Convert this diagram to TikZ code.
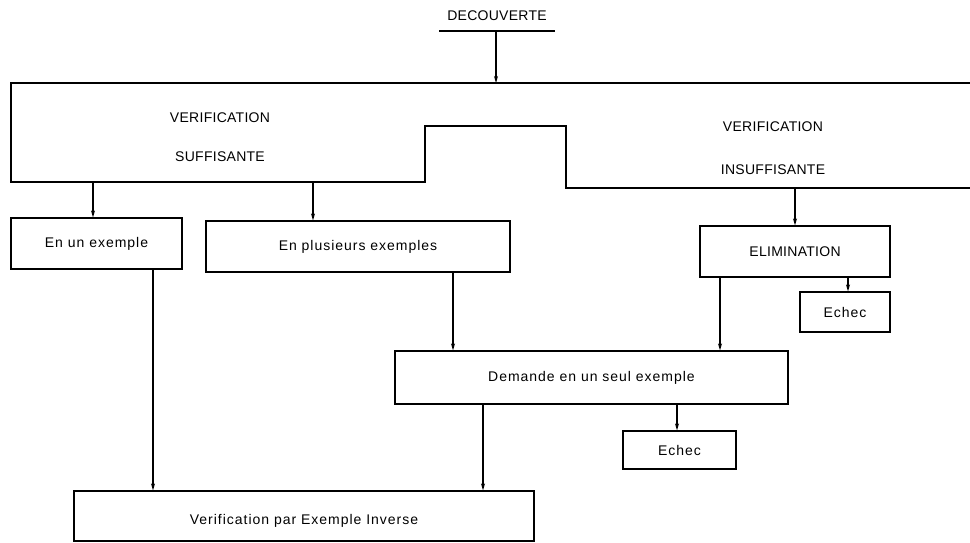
\documentclass[tikz,border=0pt]{standalone}
\usepackage{fontspec}
\setmainfont{Liberation Sans}[LetterSpace=2]
\newfontfamily\spacedfont{Liberation Sans}[LetterSpace=7]
\usetikzlibrary{arrows.meta}
\begin{document}
\begin{tikzpicture}[x=1pt,y=-1pt,
  line width=1.2pt,
  every node/.style={font=\fontsize{14}{16}\selectfont},
  box/.style={draw, inner sep=0pt, line width=1.2pt},
  wide/.style={font=\spacedfont\fontsize{14}{16}\selectfont},
  lbl/.style={inner sep=0pt},
  arr/.style={-{Stealth[length=7pt,width=4pt]}, line width=1.1pt}]
\useasboundingbox (0,0) rectangle (970,543);

% heading
\node[lbl] (dec) at (497,16) {DECOUVERTE};
\coordinate (barl) at (439,31);
\coordinate (barr) at (555,31);
\draw (barl) -- (barr);

% stepped outline of the two verification zones
\coordinate (topline) at (0,83);
\coordinate (suffbase) at (0,182);
\coordinate (insuffbase) at (0,188);
\draw (970,83) -- (11,83) -- (11,182) -- (425,182) -- (425,126)
      -- (566,126) -- (566,188) -- (970,188);
\node[lbl] (vs1) at (220,118) {VERIFICATION};
\node[lbl] (vs2) at (220,157) {SUFFISANTE};
\node[lbl] (vi1) at (773,127) {VERIFICATION};
\node[lbl] (vi2) at (773,170) {INSUFFISANTE};

% boxes
\node[box, wide, minimum width=171pt, minimum height=51pt] (un) at (96.5,243.5) {En un exemple};
\node[box, wide, minimum width=304pt, minimum height=51pt] (plus) at (358,246.5) {En plusieurs exemples};
\node[box, minimum width=190pt, minimum height=51pt] (elim) at (795,251.5) {ELIMINATION};
\node[box, wide, minimum width=90pt, minimum height=40pt] (echA) at (845,312) {Echec};
\node[box, wide, minimum width=393pt, minimum height=53pt] (dem) at (591.5,377.5) {Demande en un seul exemple};
\node[box, wide, minimum width=113pt, minimum height=38pt] (echB) at (679.5,450) {Echec};
\node[box, wide, minimum width=460pt, minimum height=50pt, text depth=0pt] (inv) at (304,516) {\raisebox{-6pt}{Verification par Exemple Inverse}};

% connector columns
\coordinate (k0) at (496,0);
\coordinate (k1) at (93,0);
\coordinate (k2) at (313,0);
\coordinate (k3) at (795,0);
\coordinate (k4) at (153,0);
\coordinate (k5) at (453,0);
\coordinate (k6) at (720,0);
\coordinate (k7) at (848,0);
\coordinate (k8) at (677,0);
\coordinate (k9) at (483,0);

% connectors
\draw[arr] (barl -| k0) -- (topline -| k0);
\draw[arr] (suffbase -| k1) -- (un.north -| k1);
\draw[arr] (suffbase -| k2) -- (plus.north -| k2);
\draw[arr] (insuffbase -| k3) -- (elim.north -| k3);
\draw[arr] (un.south -| k4) -- (inv.north -| k4);
\draw[arr] (plus.south -| k5) -- (dem.north -| k5);
\draw[arr] (elim.south -| k6) -- (dem.north -| k6);
\draw[arr] (elim.south -| k7) -- (echA.north -| k7);
\draw[arr] (dem.south -| k8) -- (echB.north -| k8);
\draw[arr] (dem.south -| k9) -- (inv.north -| k9);
\end{tikzpicture}
\end{document}
